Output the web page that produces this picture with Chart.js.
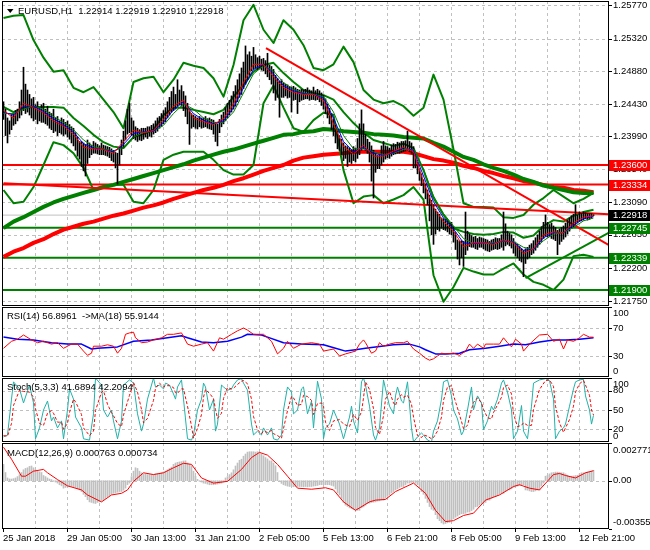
<!DOCTYPE html>
<html><head><meta charset="utf-8">
<script src="https://cdn.jsdelivr.net/npm/chart.js@4.4.1/dist/chart.umd.min.js"></script>
<style>
html,body{margin:0;padding:0;background:#fff;width:650px;height:550px;overflow:hidden}
canvas{position:absolute;left:0}
</style></head><body>
<canvas id="cMain" width="650" height="306" style="top:0px"></canvas>
<canvas id="cRsi" width="650" height="71" style="top:306px"></canvas>
<canvas id="cSto" width="650" height="65" style="top:377px"></canvas>
<canvas id="cMacd" width="650" height="108" style="top:442px"></canvas>
<script>
// ---------- categories / ticks ----------
const timeLabels = ['25 Jan 2018','29 Jan 05:00','30 Jan 13:00','31 Jan 21:00','2 Feb 05:00','5 Feb 13:00','6 Feb 21:00','8 Feb 05:00','9 Feb 13:00','12 Feb 21:00'];
const timeLabelBars = [0,32,64,96,128,160,192,224,256,288];
const gridBars = [16,32,48,64,80,96,112,128,144,160,176,192,208,224,240,256,272,288];
const priceTicks = [1.25770,1.25320,1.24880,1.24430,1.23990,1.23540,1.23090,1.22650,1.22200,1.21750];
const rsiTicks = [100,70,30,0];
const rsiGrid = [70,30];
const stochTicks = [100,80,50,20,0];
const stochGrid = [80,50,20];
const macdTicks = [0.002771,0,-0.003554];
const macdTickText = ['0.002771','0.00','-0.003554'];

const mainTitle = 'EURUSD,H1  1.22914 1.22919 1.22910 1.22918';
const rsiTitle = 'RSI(14) 56.8961  ->MA(18) 55.9144';
const stochTitle = 'Stoch(5,3,3) 41.6894 42.2094';
const macdTitle = 'MACD(12,26,9) 0.000763 0.000734';

// ---------- H1 bars (high / low) ----------
const barHigh = [
1.2446,1.2436,1.2424,1.2420,1.2428,1.2430,1.2434,1.2436,1.2446,1.2462,
1.2493,1.2470,1.2462,1.2456,1.2450,1.2452,1.2442,1.2446,1.2438,1.2442,
1.2444,1.2436,1.2440,1.2432,1.2430,1.2436,1.2424,1.2426,1.2420,1.2424,
1.2422,1.2418,1.2420,1.2415,1.2412,1.2410,1.2404,1.2398,1.2392,1.2392,
1.2390,1.2388,1.2394,1.2390,1.2387,1.2392,1.2390,1.2388,1.2386,1.2390,
1.2387,1.2386,1.2385,1.2384,1.2382,1.2380,1.2377,1.2376,1.2384,1.2394,
1.2406,1.2420,1.2436,1.2444,1.2424,1.2420,1.2412,1.2410,1.2408,1.2410,
1.2410,1.2410,1.2412,1.2412,1.2414,1.2416,1.2420,1.2424,1.2426,1.2430,
1.2434,1.2438,1.2446,1.2452,1.2460,1.2466,1.2456,1.2476,1.2462,1.2468,
1.2460,1.2454,1.2444,1.2434,1.2430,1.2428,1.2426,1.2424,1.2426,1.2424,
1.2424,1.2426,1.2423,1.2424,1.2422,1.2421,1.2418,1.2416,1.2422,1.2428,
1.2432,1.2438,1.2444,1.2448,1.2454,1.2460,1.2468,1.2476,1.2484,1.2492,
1.2500,1.2522,1.2510,1.2514,1.2508,1.2520,1.2510,1.2506,1.2508,1.2504,
1.2505,1.2502,1.2512,1.2496,1.2494,1.2490,1.2482,1.2478,1.2474,1.2476,
1.2472,1.2470,1.2469,1.2467,1.2466,1.2467,1.2465,1.2463,1.2462,1.2463,
1.2462,1.2463,1.2465,1.2462,1.2461,1.2466,1.2461,1.2463,1.2461,1.2458,
1.2455,1.2450,1.2443,1.2437,1.2430,1.2422,1.2414,1.2406,1.2400,1.2395,
1.2390,1.2386,1.2385,1.2383,1.2381,1.2385,1.2383,1.2396,1.2416,1.2435,
1.2416,1.2402,1.2395,1.2391,1.2386,1.2380,1.2376,1.2373,1.2375,1.2386,
1.2392,1.2386,1.2385,1.2383,1.2387,1.2389,1.2388,1.2391,1.2390,1.2392,
1.2392,1.2393,1.2406,1.2392,1.2390,1.2385,1.2374,1.2364,1.2355,1.2348,
1.2340,1.2334,1.2326,1.2319,1.2312,1.2306,1.2300,1.2296,1.2293,1.2288,
1.2287,1.2286,1.2284,1.2281,1.2282,1.2276,1.2268,1.2258,1.2256,1.2257,
1.2256,1.2296,1.2270,1.2266,1.2264,1.2262,1.2263,1.2260,1.2262,1.2261,
1.2260,1.2259,1.2258,1.2256,1.2258,1.2259,1.2261,1.2260,1.2260,1.2265,
1.2296,1.2280,1.2270,1.2267,1.2265,1.2260,1.2254,1.2252,1.2249,1.2246,
1.2244,1.2246,1.2248,1.2251,1.2253,1.2257,1.2261,1.2265,1.2270,1.2276,
1.2282,1.2292,1.2282,1.2279,1.2281,1.2277,1.2275,1.2271,1.2273,1.2275,
1.2277,1.2281,1.2285,1.2288,1.2291,1.2293,1.2306,1.2292,1.2296,1.2294,
1.2296,1.2295,1.2294,1.2294,1.2294,1.22919];
const barLow = [
1.2422,1.2400,1.2390,1.2402,1.2408,1.2414,1.2416,1.2420,1.2424,1.2428,
1.2434,1.2430,1.2432,1.2428,1.2424,1.2420,1.2422,1.2416,1.2420,1.2418,
1.2418,1.2416,1.2414,1.2410,1.2408,1.2404,1.2406,1.2400,1.2404,1.2402,
1.2400,1.2402,1.2398,1.2395,1.2390,1.2386,1.2380,1.2372,1.2368,1.2358,
1.2352,1.2345,1.2362,1.2370,1.2374,1.2376,1.2376,1.2375,1.2374,1.2374,
1.2374,1.2373,1.2372,1.2370,1.2366,1.2364,1.2356,1.2334,1.2360,1.2374,
1.2384,1.2394,1.2402,1.2404,1.2400,1.2396,1.2394,1.2392,1.2394,1.2393,
1.2395,1.2398,1.2396,1.2399,1.2398,1.2402,1.2404,1.2406,1.2410,1.2412,
1.2416,1.2419,1.2424,1.2428,1.2432,1.2434,1.2436,1.2440,1.2442,1.2440,
1.2434,1.2426,1.2416,1.2388,1.2410,1.2412,1.2410,1.2409,1.2412,1.2410,
1.2411,1.2412,1.2410,1.2409,1.2408,1.2402,1.2392,1.2386,1.2404,1.2412,
1.2416,1.2420,1.2424,1.2428,1.2432,1.2436,1.2440,1.2446,1.2452,1.2456,
1.2464,1.2470,1.2476,1.2482,1.2488,1.2490,1.2492,1.2490,1.2492,1.2489,
1.2488,1.2484,1.2480,1.2476,1.2470,1.2458,1.2448,1.2452,1.2425,1.2452,
1.2452,1.2454,1.2451,1.2452,1.2432,1.2448,1.2449,1.2430,1.2446,1.2448,
1.2449,1.2450,1.2450,1.2448,1.2449,1.2449,1.2448,1.2449,1.2446,1.2441,
1.2436,1.2430,1.2424,1.2416,1.2408,1.2400,1.2390,1.2382,1.2380,1.2374,
1.2366,1.2369,1.2358,1.2364,1.2362,1.2366,1.2364,1.2369,1.2374,1.2380,
1.2382,1.2380,1.2376,1.2364,1.2338,1.2315,1.2350,1.2355,1.2355,1.2360,
1.2364,1.2368,1.2370,1.2369,1.2372,1.2374,1.2375,1.2376,1.2376,1.2377,
1.2378,1.2379,1.2380,1.2378,1.2376,1.2356,1.2356,1.2348,1.2339,1.2332,
1.2322,1.2314,1.2306,1.2284,1.2265,1.2252,1.2266,1.2272,1.2270,1.2274,
1.2272,1.2271,1.2269,1.2266,1.2265,1.2255,1.2245,1.2232,1.2224,1.2234,
1.2222,1.2238,1.2244,1.2249,1.2248,1.2248,1.2246,1.2245,1.2248,1.2248,
1.2246,1.2244,1.2243,1.2242,1.2244,1.2245,1.2246,1.2245,1.2246,1.2248,
1.2244,1.2250,1.2252,1.2250,1.2247,1.2240,1.2236,1.2234,1.2230,1.2228,
1.2208,1.2226,1.2232,1.2234,1.2238,1.2240,1.2244,1.2248,1.2252,1.2256,
1.2260,1.2263,1.2262,1.2263,1.2260,1.2259,1.2257,1.2238,1.2252,1.2256,
1.2259,1.2262,1.2266,1.2270,1.2274,1.2276,1.2279,1.2281,1.2283,1.2284,
1.2285,1.2287,1.2285,1.2286,1.2287,1.22910];

// ---------- indicator values, one every 5 bars ----------
const IND_STEP = 5;
const maFastRed = [1.2434,1.2424,1.2444,1.2438,1.2431,1.2420,1.2413,1.2402,1.2384,1.2382,1.2381,1.2376,1.2392,1.2407,1.2404,1.2407,1.2422,1.2440,1.2448,1.2424,1.2419,1.2415,1.2423,1.2443,1.2472,1.2497,1.2497,1.2480,1.2465,1.2459,1.2456,1.2456,1.2448,1.2416,1.2385,1.2375,1.2387,1.2372,1.2372,1.2379,1.2384,1.2378,1.2337,1.2302,1.2283,1.2270,1.2249,1.2254,1.2254,1.2252,1.2258,1.2254,1.2240,1.2246,1.2265,1.2269,1.2268,1.2281,1.2289,1.2291];
const maFastBlue = [1.2432,1.2428,1.2440,1.2440,1.2433,1.2423,1.2415,1.2405,1.2389,1.2383,1.2381,1.2378,1.2388,1.2403,1.2405,1.2406,1.2418,1.2435,1.2446,1.2430,1.2421,1.2416,1.2420,1.2438,1.2465,1.2490,1.2497,1.2484,1.2468,1.2461,1.2457,1.2456,1.2451,1.2424,1.2392,1.2378,1.2384,1.2376,1.2373,1.2377,1.2383,1.2380,1.2345,1.2310,1.2288,1.2273,1.2254,1.2253,1.2254,1.2253,1.2257,1.2255,1.2244,1.2245,1.2261,1.2268,1.2268,1.2278,1.2287,1.2290];
const maThinGreen = [1.2430,1.2430,1.2436,1.2440,1.2436,1.2426,1.2418,1.2408,1.2394,1.2385,1.2382,1.2379,1.2384,1.2398,1.2404,1.2406,1.2414,1.2430,1.2443,1.2436,1.2424,1.2418,1.2418,1.2432,1.2458,1.2484,1.2495,1.2488,1.2472,1.2463,1.2458,1.2456,1.2453,1.2432,1.2400,1.2382,1.2382,1.2378,1.2374,1.2376,1.2381,1.2381,1.2354,1.2318,1.2294,1.2277,1.2260,1.2253,1.2254,1.2254,1.2256,1.2256,1.2248,1.2245,1.2257,1.2266,1.2268,1.2275,1.2284,1.2288];
const bandUpper = [1.2560,1.2563,1.2564,1.2530,1.2506,1.2487,1.2489,1.2465,1.2459,1.2466,1.2449,1.2432,1.2410,1.2473,1.2478,1.2480,1.2459,1.2476,1.2499,1.2495,1.2492,1.2478,1.2453,1.2496,1.2557,1.2578,1.2544,1.2526,1.2557,1.2544,1.2523,1.2492,1.2489,1.2497,1.2521,1.2500,1.2462,1.2449,1.2444,1.2447,1.2440,1.2427,1.2438,1.2483,1.2449,1.2381,1.2308,1.2303,1.2303,1.2302,1.2289,1.2288,1.2292,1.2306,1.2315,1.2326,1.2317,1.2308,1.2314,1.2322];
const bandLower = [1.2326,1.2308,1.2310,1.2330,1.2360,1.2391,1.2387,1.2376,1.2356,1.2326,1.2329,1.2333,1.2333,1.2310,1.2308,1.2326,1.2367,1.2374,1.2378,1.2378,1.2378,1.2367,1.2353,1.2347,1.2347,1.2360,1.2444,1.2468,1.2438,1.2410,1.2405,1.2421,1.2431,1.2428,1.2353,1.2308,1.2317,1.2319,1.2308,1.2313,1.2319,1.2330,1.2313,1.2210,1.2174,1.2194,1.2220,1.2215,1.2211,1.2211,1.2219,1.2226,1.2211,1.2201,1.2197,1.2190,1.2204,1.2236,1.2238,1.2235];
const bandInner = [1.2439,1.2432,1.2438,1.2439,1.2439,1.2439,1.2438,1.2424,1.2413,1.2401,1.2391,1.2385,1.2383,1.2398,1.2402,1.2408,1.2428,1.2438,1.2438,1.2435,1.2432,1.2429,1.2435,1.2453,1.2469,1.2487,1.2496,1.2499,1.2485,1.2473,1.2462,1.2458,1.2455,1.2449,1.2432,1.2417,1.2404,1.2394,1.2390,1.2386,1.2389,1.2383,1.2353,1.2315,1.2292,1.2274,1.2269,1.2266,1.2265,1.2266,1.2269,1.2268,1.2261,1.2264,1.2277,1.2285,1.2283,1.2291,1.2296,1.2299];
const maSlowGreen = [1.2274,1.2283,1.2289,1.2296,1.2303,1.2309,1.2314,1.2318,1.2322,1.2326,1.2330,1.2333,1.2337,1.2341,1.2345,1.2349,1.2353,1.2357,1.2361,1.2366,1.2370,1.2374,1.2378,1.2381,1.2385,1.2389,1.2393,1.2397,1.2401,1.2402,1.2405,1.2406,1.2409,1.2408,1.2406,1.2405,1.2404,1.2402,1.2401,1.2400,1.2398,1.2397,1.2396,1.2390,1.2385,1.2378,1.2371,1.2367,1.2361,1.2356,1.2352,1.2347,1.2341,1.2337,1.2332,1.2329,1.2326,1.2323,1.2322,1.2322];
const maSlowRed = [1.2235,1.2242,1.2247,1.2254,1.2259,1.2266,1.2272,1.2276,1.2280,1.2283,1.2287,1.2291,1.2294,1.2298,1.2302,1.2305,1.2309,1.2314,1.2318,1.2322,1.2326,1.2329,1.2333,1.2338,1.2342,1.2347,1.2352,1.2356,1.2360,1.2366,1.2370,1.2372,1.2374,1.2375,1.2376,1.2378,1.2378,1.2378,1.2378,1.2378,1.2378,1.2376,1.2372,1.2368,1.2366,1.2363,1.2359,1.2356,1.2352,1.2349,1.2345,1.2342,1.2338,1.2336,1.2333,1.2330,1.2329,1.2326,1.2325,1.2323];

// ---------- drawn objects ----------
const resistLevels = [1.23600, 1.23334];
const supportLevels = [1.22745, 1.22339, 1.21900];
const lastPrice = 1.22918;
const trendDown = [[131.25,1.2519],[302.75,1.2251]];
const trendFlat = [[0,1.2335],[302.75,1.2293]];
const trendUp = [[261,1.2206],[302.75,1.2268]];

// ---------- RSI ----------
const rsiPts = [[0,41],[4,51],[7,54],[10,60],[14,53],[17,49],[20,51],[24,47],[27,49],[30,41],[34,47],[37,47],[40,37],[42,31],[44,34],[45,44],[49,44],[52,46],[55,44],[57,34],[59,41],[61,61],[63,63],[65,64],[66,56],[69,49],[72,50],[75,53],[79,56],[82,61],[85,61],[89,63],[92,47],[95,44],[99,47],[102,49],[105,37],[108,56],[110,54],[114,61],[117,66],[120,70],[122,67],[125,61],[130,61],[134,51],[137,33],[140,41],[142,51],[145,41],[149,47],[154,49],[158,47],[160,37],[165,40],[168,30],[171,33],[176,37],[178,47],[180,53],[181,49],[184,34],[186,37],[188,49],[190,44],[193,47],[196,49],[200,49],[202,51],[205,40],[208,34],[211,27],[213,24],[215,26],[217,30],[219,34],[221,33],[225,34],[228,31],[231,37],[233,47],[235,41],[237,47],[240,41],[241,47],[245,47],[248,47],[250,56],[252,49],[254,43],[256,54],[259,47],[260,37],[263,47],[268,60],[272,61],[275,51],[278,54],[280,40],[282,53],[285,51],[288,56],[290,61],[293,57],[295,56.9]];
const rsiMaPts = [[0,57],[7,54],[15,53],[24,49],[32,47],[39,47],[44,40],[47,41],[57,43],[65,51],[74,53],[82,56],[89,59],[92,56],[99,50],[105,49],[112,51],[119,57],[122,61],[129,60],[132,57],[140,49],[149,47],[160,46],[166,41],[171,37],[176,39],[181,41],[186,43],[195,46],[203,47],[208,43],[211,39],[216,33],[221,33],[228,34],[233,39],[241,41],[248,44],[255,47],[261,46],[268,50],[275,53],[281,53],[288,54],[295,55.9]];

// ---------- Stochastic ----------
const stochMainPts = [[0,8],[2,11],[4,67],[5,94],[8,83],[10,61],[13,89],[15,61],[16,5],[18,22],[20,50],[22,64],[24,33],[25,39],[27,22],[29,33],[30,5],[32,50],[33,83],[35,67],[36,39],[39,22],[40,5],[43,3],[45,44],[46,100],[49,89],[50,50],[52,39],[54,50],[55,33],[57,5],[59,33],[60,89],[63,97],[65,92],[67,44],[69,17],[70,28],[72,67],[75,100],[76,86],[78,89],[80,83],[81,92],[83,89],[85,75],[86,67],[87,86],[89,97],[90,67],[92,5],[94,3],[95,11],[97,50],[99,67],[100,92],[101,86],[103,50],[105,67],[106,17],[107,28],[109,89],[110,86],[112,81],[114,83],[115,89],[117,97],[119,99],[120,92],[122,81],[124,28],[125,11],[127,17],[129,11],[130,22],[132,11],[134,22],[135,5],[137,3],[139,11],[140,50],[142,86],[144,78],[145,44],[147,50],[149,83],[150,86],[152,44],[154,64],[155,22],[157,95],[159,67],[160,5],[161,22],[163,28],[165,50],[168,28],[170,5],[173,39],[174,56],[175,33],[177,14],[179,94],[180,100],[181,89],[183,56],[185,11],[186,3],[188,22],[190,97],[191,83],[193,56],[195,44],[196,72],[197,86],[199,64],[200,61],[202,94],[204,22],[205,0],[207,8],[209,14],[210,11],[212,3],[214,0],[215,17],[217,33],[219,67],[220,94],[222,97],[224,72],[225,50],[227,36],[229,11],[230,17],[232,50],[234,86],[235,50],[237,72],[239,61],[240,19],[242,33],[244,56],[245,50],[247,67],[249,92],[250,97],[252,78],[254,50],[255,5],[257,17],[259,57],[260,17],[262,5],[264,56],[265,92],[268,97],[271,99],[273,96],[275,67],[276,5],[278,17],[280,22],[281,28],[283,56],[285,83],[286,94],[288,97],[290,98],[291,72],[293,50],[294,28],[295,41.7]];
const stochSignalPts = [[0,10],[2,9],[4,29],[5,57],[8,81],[10,79],[13,78],[15,70],[16,52],[18,29],[20,26],[22,45],[24,49],[25,45],[27,31],[29,31],[30,20],[32,29],[33,46],[35,67],[36,63],[39,43],[40,22],[43,10],[45,17],[46,49],[49,78],[50,80],[52,59],[54,46],[55,41],[57,29],[59,24],[60,42],[63,73],[65,93],[67,78],[69,51],[70,30],[72,37],[75,65],[76,84],[78,92],[80,86],[81,88],[83,88],[85,85],[86,77],[87,76],[89,83],[90,83],[92,56],[94,25],[95,6],[97,21],[99,43],[100,70],[101,82],[103,76],[105,68],[106,51],[107,37],[109,45],[110,68],[112,85],[114,83],[115,84],[117,90],[119,95],[120,96],[122,91],[124,67],[125,40],[127,19],[129,13],[130,17],[132,15],[134,18],[135,13],[137,10],[139,6],[140,21],[142,49],[144,71],[145,69],[147,57],[149,59],[150,73],[152,71],[154,65],[155,43],[157,60],[159,61],[160,56],[161,31],[163,18],[165,33],[168,35],[170,28],[173,24],[174,33],[175,43],[177,34],[179,47],[180,69],[181,94],[183,82],[185,52],[186,23],[188,12],[190,41],[191,67],[193,79],[195,61],[196,57],[197,67],[199,74],[200,70],[202,73],[204,59],[205,39],[207,10],[209,7],[210,11],[212,9],[214,5],[215,7],[217,17],[219,39],[220,65],[222,86],[224,88],[225,73],[227,53],[229,32],[230,21],[232,26],[234,51],[235,62],[237,69],[239,61],[240,51],[242,38],[244,36],[245,46],[247,58],[249,70],[250,85],[252,89],[254,75],[255,44],[257,24],[259,26],[260,30],[262,26],[264,26],[265,51],[268,82],[271,96],[273,97],[275,87],[276,56],[278,30],[280,15],[281,22],[283,35],[285,56],[286,78],[288,91],[290,96],[291,89],[293,73],[294,50],[295,42.2]];

// ---------- MACD ----------
const macdHist = [
0.0012,0.0006,0.0002,0.00013,0.00012,0.00015,0.0002,0.0003,0.00045,0.0006,
0.0008,0.0009,0.00095,0.00105,0.00108,0.00095,0.0008,0.0007,0.00065,0.0006,
0.00038,0.0003,0.0002,0.00012,0.00008,-0.00005,-0.0001,-0.00018,-0.0003,-0.00038,
-0.00055,-0.0005,-0.00045,-0.00043,-0.00043,-0.00045,-0.0005,-0.0006,-0.00068,-0.0008,
-0.001,-0.00118,-0.0014,-0.00156,-0.0016,-0.00165,-0.00168,-0.0016,-0.00156,-0.0015,
-0.00143,-0.0013,-0.00118,-0.0011,-0.001,-0.00093,-0.0009,-0.00085,-0.0008,-0.0008,
-0.0007,-0.00055,-0.0003,-0.00018,0.0003,0.0007,0.00095,0.0009,0.0007,0.00058,
0.0005,0.00048,0.00045,0.00045,0.00045,0.00045,0.0005,0.00052,0.00055,0.00058,
0.00065,0.0007,0.0008,0.0009,0.001,0.0012,0.0013,0.00135,0.00138,0.0014,
0.00145,0.00146,0.0013,0.0012,0.0011,0.0007,0.00033,0.0001,-0.00005,-0.0001,
-0.00018,-0.0002,-0.00025,-0.0003,-0.0003,-0.0003,-0.00028,-0.00025,-0.0002,-0.00018,
-0.0001,0.0002,0.0003,0.00045,0.00058,0.0008,0.00108,0.0013,0.0015,0.00158,
0.0018,0.00196,0.0021,0.00213,0.00213,0.00213,0.0021,0.00213,0.0021,0.00195,
0.00183,0.0017,0.0016,0.00146,0.00146,0.0013,0.0011,0.0006,-0.00005,-0.0002,
-0.0003,-0.00035,-0.0004,-0.00043,-0.00043,-0.00045,-0.00043,-0.00043,-0.00043,-0.00043,
-0.00045,-0.00043,-0.00045,-0.00043,-0.00043,-0.0004,-0.00038,-0.00035,-0.0003,-0.0003,
-0.0003,-0.0003,-0.0003,-0.0003,-0.00035,-0.0004,-0.0006,-0.0009,-0.00105,-0.0013,
-0.0016,-0.0018,-0.0019,-0.002,-0.00206,-0.0021,-0.00215,-0.00218,-0.00218,-0.002,
-0.00193,-0.0018,-0.00168,-0.00165,-0.0016,-0.00158,-0.00156,-0.0015,-0.00148,-0.00143,
-0.00143,-0.0013,-0.00115,-0.00105,-0.0009,-0.0008,-0.00068,-0.0006,-0.0005,-0.00043,
-0.00043,-0.0003,-0.00018,-0.00018,-0.00013,-0.00013,-0.0002,-0.0003,-0.00043,-0.0008,
-0.001,-0.0013,-0.0016,-0.0019,-0.0021,-0.00218,-0.0025,-0.0028,-0.00294,-0.0031,
-0.00319,-0.00315,-0.0031,-0.00306,-0.0029,-0.0028,-0.00269,-0.0026,-0.0025,-0.00243,
-0.00243,-0.0024,-0.00231,-0.00231,-0.0022,-0.0021,-0.00193,-0.0019,-0.0018,-0.00168,
-0.00168,-0.0016,-0.00143,-0.00143,-0.0013,-0.0012,-0.00118,-0.0011,-0.001,-0.00093,
-0.00093,-0.0008,-0.00068,-0.00068,-0.0006,-0.0005,-0.00043,-0.0004,-0.00035,-0.0003,
-0.0003,-0.00068,-0.0007,-0.00075,-0.0008,-0.0008,-0.00075,-0.00068,-0.00068,-0.0004,
-0.00018,0.00033,0.0004,0.0005,0.00058,0.0006,0.00063,0.00063,0.0006,0.00058,
0.00058,0.0005,0.0004,0.00033,0.00033,0.00035,0.00038,0.0004,0.0005,0.00058,
0.00058,0.0006,0.00063,0.00063,0.0007,0.000763];
const macdSignalPts = [[0,0.00246],[4,0.00158],[9,0.00033],[11,0.00033],[15,0.0007],[20,0.00083],[22,0.00058],[27,0.00008],[32,-0.00038],[39,-0.00068],[42,-0.00105],[49,-0.00156],[54,-0.00105],[59,-0.00093],[62,-0.00068],[65,-0.00005],[70,0.00058],[75,0.00045],[80,0.00058],[85,0.00095],[90,0.00128],[94,0.0012],[99,0.0002],[105,-0.00018],[112,-0.00005],[119,0.00083],[124,0.0017],[128,0.00208],[132,0.00188],[137,0.0012],[142,0.00033],[147,-0.00055],[154,-0.00063],[161,-0.00052],[165,-0.00068],[170,-0.00156],[176,-0.00218],[183,-0.00156],[186,-0.00143],[191,-0.00138],[196,-0.0008],[205,-0.00018],[211,-0.00093],[216,-0.00218],[221,-0.00301],[225,-0.00294],[230,-0.00256],[235,-0.00239],[241,-0.00143],[248,-0.00105],[255,-0.00043],[258,-0.0003],[263,-0.00055],[268,-0.00068],[275,0.00045],[278,0.00053],[281,0.00038],[286,0.0002],[291,0.00058],[295,0.000734]];

// ---------- helpers ----------
const FONT = '9.5px "Liberation Sans", Arial, sans-serif';
const X_MIN = -0.75, X_MAX = 302.75;
const GREEN = '#008000', RED = '#ff0000', BLUE = '#0000ff', GRID = '#c0c0c0';
const stepPts = arr => arr.map((v,k) => ({x:k*IND_STEP, y:v}));
const pairPts = arr => arr.map(([b,v]) => ({x:b, y:v}));
const levelPts = v => [{x:X_MIN,y:v},{x:X_MAX,y:v}];
function line(data, color, width, order, extra) {
  return Object.assign({type:'line', data, borderColor:color, borderWidth:width, pointRadius:0, fill:false, tension:0, order, borderJoinStyle:'round'}, extra||{});
}
function baseOptions(yMin, yMax, padBottom) {
  return {
    responsive:false, animation:false, devicePixelRatio:1, events:[],
    layout:{padding:{left:2,right:41,top:1,bottom:padBottom}},
    plugins:{legend:{display:false}, tooltip:{enabled:false}},
    scales:{
      x:{type:'linear', min:X_MIN, max:X_MAX, display:false, offset:false},
      y:{type:'linear', min:yMin, max:yMax, display:false}
    }
  };
}
function deco(cfg) {
  return {
    id:'deco',
    beforeDatasetsDraw(chart) {
      const {ctx, chartArea:a} = chart, xs = chart.scales.x, ys = chart.scales.y;
      ctx.save();
      ctx.strokeStyle = GRID; ctx.lineWidth = 1; ctx.setLineDash([3,3]);
      ctx.beginPath();
      gridBars.forEach(b => { const px = Math.floor(xs.getPixelForValue(b)) + 0.5; ctx.moveTo(px, a.top); ctx.lineTo(px, a.bottom); });
      cfg.hGrid.forEach(v => { const py = Math.round(ys.getPixelForValue(v)) + 0.5; ctx.moveTo(a.left, py); ctx.lineTo(a.right, py); });
      ctx.stroke();
      ctx.restore();
    },
    afterDraw(chart) {
      const {ctx, chartArea:a} = chart, xs = chart.scales.x, ys = chart.scales.y;
      ctx.save();
      ctx.setLineDash([]);
      ctx.strokeStyle = '#000'; ctx.lineWidth = 1;
      ctx.strokeRect(a.left + 0.5, a.top + 0.5, a.right - a.left - 1, a.bottom - a.top - 1);
      ctx.font = FONT; ctx.textBaseline = 'middle'; ctx.textAlign = 'left'; ctx.fillStyle = '#000';
      cfg.ticks.forEach((v, i) => {
        const py = ys.getPixelForValue(v);
        const ry = Math.round(py) + 0.5;
        ctx.beginPath(); ctx.moveTo(a.right, ry); ctx.lineTo(a.right + 3, ry); ctx.stroke();
        const ty = Math.min(Math.max(py, a.top + cfg.clamp), a.bottom - cfg.clamp);
        ctx.fillText(cfg.tickText[i], a.right + 4, ty);
      });
      (cfg.boxes || []).forEach(([v, col]) => {
        const py = Math.round(ys.getPixelForValue(v));
        ctx.fillStyle = col; ctx.fillRect(a.right, py - 5, 650 - a.right, 11);
        ctx.fillStyle = '#fff'; ctx.fillText(v.toFixed(5), a.right + 4, py + 0.5);
      });
      ctx.fillStyle = '#000';
      if (cfg.triangle) {
        ctx.beginPath(); ctx.moveTo(7, 9); ctx.lineTo(13.5, 9); ctx.lineTo(10.25, 13); ctx.closePath(); ctx.fill();
      }
      ctx.fillText(cfg.title, cfg.titleX, cfg.titleY);
      if (cfg.timeAxis) {
        timeLabelBars.forEach((b, i) => {
          const px = Math.floor(xs.getPixelForValue(b));
          ctx.beginPath(); ctx.moveTo(px + 0.5, a.bottom); ctx.lineTo(px + 0.5, a.bottom + 3); ctx.stroke();
          ctx.fillText(timeLabels[i], px, a.bottom + 9);
        });
      }
      ctx.restore();
    }
  };
}

// ---------- main price chart ----------
const mainDatasets = [
  line(stepPts(maFastRed), RED, 1, 1),
  line(stepPts(maFastBlue), BLUE, 1, 2),
  line(stepPts(maThinGreen), GREEN, 1, 3),
  {type:'bar', data: barHigh.map((h, i) => ({x:i, y:[barLow[i], h]})), backgroundColor:'#000', borderWidth:0, barThickness:1, minBarLength:1, order:4},
  line(pairPts(trendDown), RED, 2, 5),
  line(pairPts(trendFlat), RED, 2, 6),
  line(pairPts(trendUp), GREEN, 2, 7),
  line(stepPts(bandInner), GREEN, 2, 8),
  line(stepPts(bandUpper), GREEN, 2, 9),
  line(stepPts(bandLower), GREEN, 2, 10),
  line(stepPts(maSlowGreen), GREEN, 4, 11),
  line(stepPts(maSlowRed), RED, 4, 12)
];
resistLevels.forEach((v, i) => mainDatasets.push(line(levelPts(v), RED, 2, 20 + i)));
supportLevels.forEach((v, i) => mainDatasets.push(line(levelPts(v), GREEN, 2, 25 + i)));
mainDatasets.push(line(levelPts(lastPrice), GRID, 1, 30));

new Chart(document.getElementById('cMain'), {
  type:'bar',
  data:{datasets: mainDatasets},
  options: baseOptions(1.216815, 1.258312, 0),
  plugins:[deco({
    hGrid: priceTicks, ticks: priceTicks, tickText: priceTicks.map(v => v.toFixed(5)), clamp: 0,
    boxes: [[resistLevels[0], RED], [resistLevels[1], RED], [lastPrice, '#000'], [supportLevels[0], GREEN], [supportLevels[1], GREEN], [supportLevels[2], GREEN]],
    triangle: true, title: mainTitle, titleX: 18, titleY: 11
  })]
});

// ---------- RSI ----------
new Chart(document.getElementById('cRsi'), {
  type:'line',
  data:{datasets:[
    line(pairPts(rsiPts), RED, 1, 1),
    line(pairPts(rsiMaPts), BLUE, 1.5, 2)
  ]},
  options: baseOptions(0, 100, 0),
  plugins:[deco({hGrid: rsiGrid, ticks: rsiTicks, tickText: rsiTicks.map(String), clamp: 6, title: rsiTitle, titleX: 7, titleY: 10})]
});

// ---------- Stochastic ----------
new Chart(document.getElementById('cSto'), {
  type:'line',
  data:{datasets:[
    line(pairPts(stochSignalPts), RED, 1, 1, {borderDash:[3,2]}),
    line(pairPts(stochMainPts), '#20b2aa', 1, 2)
  ]},
  options: baseOptions(0, 100, 0),
  plugins:[deco({hGrid: stochGrid, ticks: stochTicks, tickText: stochTicks.map(String), clamp: 6, title: stochTitle, titleX: 7, titleY: 10})]
});

// ---------- MACD ----------
new Chart(document.getElementById('cMacd'), {
  type:'bar',
  data:{datasets:[
    line(pairPts(macdSignalPts), RED, 1, 1),
    {type:'bar', data: macdHist.map((v, i) => ({x:i, y:v})), backgroundColor:GRID, borderWidth:0, barThickness:1, order:2}
  ]},
  options: baseOptions(-0.003554, 0.002771, 21),
  plugins:[deco({hGrid: [0], ticks: macdTicks, tickText: macdTickText, clamp: 7, title: macdTitle, titleX: 7, titleY: 11, timeAxis: true})]
});
</script>
</body></html>
